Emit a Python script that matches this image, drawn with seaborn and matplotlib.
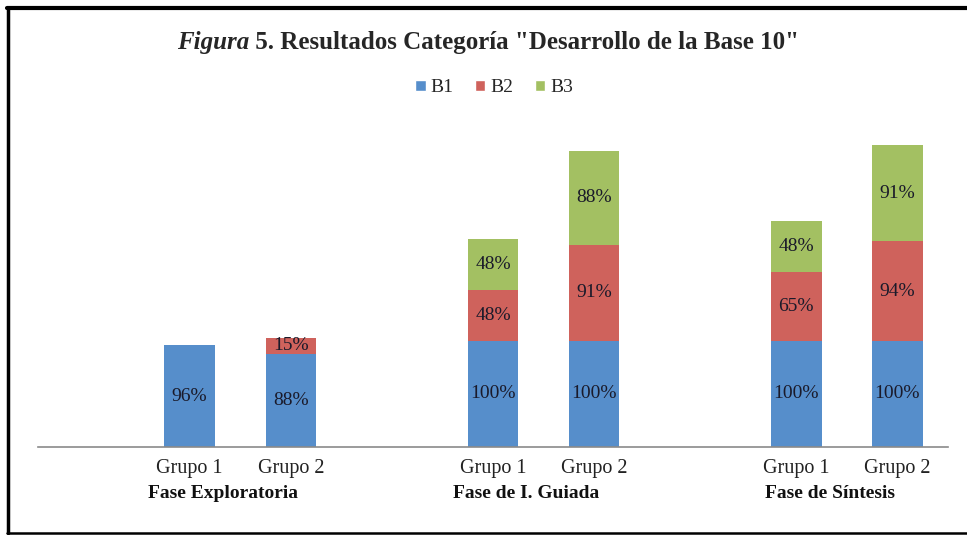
# import libraries
import numpy as np
import pandas as pd
import matplotlib
matplotlib.use("Agg")
import matplotlib.pyplot as plt
import matplotlib.transforms as mtransforms
from matplotlib.lines import Line2D
from matplotlib.patches import Patch
import seaborn as sns

# data
fases = ["Fase Exploratoria", "Fase de I. Guiada", "Fase de Síntesis"]
grupos = ["Grupo 1", "Grupo 2"]
series = ["B1", "B2", "B3"]
b1 = [96, 88, 100, 100, 100, 100]
b2 = [0, 15, 48, 91, 65, 94]
b3 = [0, 0, 48, 88, 48, 91]

colors = {"B1": "#568ECB", "B2": "#CF625C", "B3": "#A3C062"}

# build table: one row per bar, bars of a phase side by side, gap between phases
rows = []
for i, fase in enumerate(fases):
    for j, grupo in enumerate(grupos):
        k = i * len(grupos) + j
        rows.append({"fase": fase, "grupo": grupo, "pos": i * 3 + j,
                     "B1": b1[k], "B2": b2[k], "B3": b3[k]})
df = pd.DataFrame(rows)
df["top1"] = df["B1"]
df["top2"] = df["B1"] + df["B2"]
df["top3"] = df["B1"] + df["B2"] + df["B3"]

sns.set_style("white")
plt.rcParams["font.family"] = ["Liberation Serif", "DejaVu Serif"]

fig = plt.figure(figsize=(9.67, 5.35), dpi=100)
ax = fig.add_axes([38 / 967, (535 - 447) / 535, 910 / 967, 318 / 535])

# stacked bars: draw cumulative totals back to front
for col, s in [("top3", "B3"), ("top2", "B2"), ("top1", "B1")]:
    sns.barplot(data=df, x="pos", y=col, native_scale=True, color=colors[s],
                width=0.5, errorbar=None, linewidth=0, saturation=1, ax=ax)

# value labels in the middle of each segment
for _, r in df.iterrows():
    base = 0
    for s in series:
        v = r[s]
        if v > 0:
            ax.text(r["pos"], base + v / 2, f"{v}%", ha="center", va="center",
                    fontsize=14, color="#1a1a2a")
        base += v

ax.set_xlim(-1.5, 7.5)
ax.set_ylim(0, 300)
ax.set_xticks(df["pos"], df["grupo"])
ax.tick_params(axis="x", length=0, labelsize=14.5, pad=9, colors="#222222")
ax.set_yticks([])
ax.set_xlabel("")
ax.set_ylabel("")
sns.despine(ax=ax, left=True)
ax.spines["bottom"].set_color("#8a8a8a")
ax.spines["bottom"].set_linewidth(1.2)

# phase names under the group labels
trans = mtransforms.blended_transform_factory(ax.transData, fig.transFigure)
for i, fase in enumerate(fases):
    xc = df.loc[df["fase"] == fase, "pos"].mean() - 0.17
    ax.text(xc, 1 - 494 / 535, fase, transform=trans, ha="center", va="center",
            fontsize=14, fontweight="bold", color="#111111")

# title: italic "Figura" + bold rest
y_t = 1 - 43 / 535
t1 = fig.text(0, y_t, "Figura", fontsize=18, fontweight="bold",
              fontstyle="italic", va="center", ha="left")
t2 = fig.text(0, y_t, ' 5. Resultados Categoría "Desarrollo de la Base 10"',
              fontsize=18, fontweight="bold", va="center", ha="left")
fig.canvas.draw()
r = fig.canvas.get_renderer()
w1 = t1.get_window_extent(r).width
w2 = t2.get_window_extent(r).width
x0 = 488 - (w1 + w2) / 2
t1.set_x(x0 / 967)
t2.set_x((x0 + w1) / 967)

# legend
handles = [Patch(facecolor=colors[s], label=s) for s in series]
fig.legend(handles=handles, loc="center", bbox_to_anchor=(494 / 967, 1 - 88 / 535),
           ncol=3, frameon=False, fontsize=14, handlelength=0.55, handleheight=0.55,
           handletextpad=0.25, columnspacing=1.1)

# outer frame of the figure
fig.add_artist(Line2D([7 / 967, 1], [1 - 8 / 535, 1 - 8 / 535],
                      transform=fig.transFigure, color="black", linewidth=3))
fig.add_artist(Line2D([7.5 / 967, 7.5 / 967], [1 - 8 / 535, 1 - 533 / 535],
                      transform=fig.transFigure, color="black", linewidth=2.5))
fig.add_artist(Line2D([7 / 967, 1], [1 - 533 / 535, 1 - 533 / 535],
                      transform=fig.transFigure, color="black", linewidth=1.8))

fig.savefig("out.png", dpi=100)
